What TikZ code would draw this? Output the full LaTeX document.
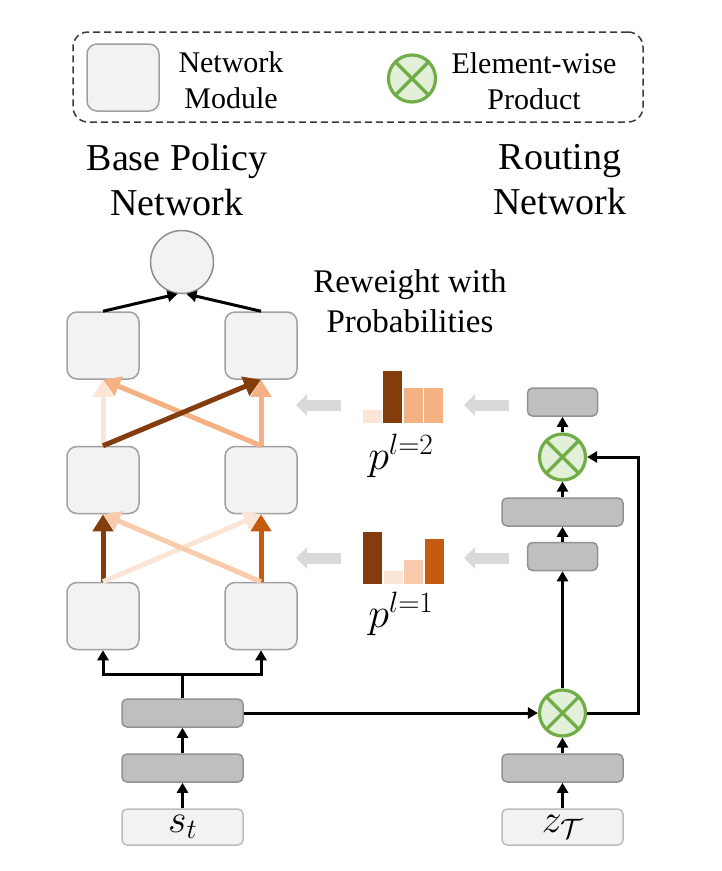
\RequirePackage{fix-cm}
\documentclass[tikz,border=0pt]{standalone}
\usepackage{fontspec}
\setmainfont{Liberation Serif}
\usetikzlibrary{arrows.meta,calc}
\definecolor{modfill}{HTML}{F2F2F2}
\definecolor{modline}{HTML}{A0A0A0}
\definecolor{outline}{HTML}{8C8C8C}
\definecolor{dfill}{HTML}{BFBFBF}
\definecolor{dline}{HTML}{929292}
\definecolor{sline}{HTML}{BDBDBD}
\definecolor{ogreen}{HTML}{70AD47}
\definecolor{ofill}{HTML}{E2F0D9}
\definecolor{cpale}{HTML}{FBE5D6}
\definecolor{clight}{HTML}{F8CBAD}
\definecolor{cmed}{HTML}{F4B183}
\definecolor{corange}{HTML}{C55A11}
\definecolor{cdark}{HTML}{843C0C}
\definecolor{garrow}{HTML}{D9D9D9}
\definecolor{legline}{HTML}{3A3A3A}
\begin{document}
\begin{tikzpicture}[x=1pt,y=-1pt,
  mod/.style={draw=modline, fill=modfill, rounded corners=10pt, line width=1.5pt,
    minimum width=72pt, minimum height=67pt, inner sep=0pt},
  dbox/.style={draw=dline, fill=dfill, rounded corners=5pt, line width=1.5pt,
    inner sep=0pt, minimum height=28pt},
  inbox/.style={draw=sline, fill=modfill, rounded corners=5pt, line width=1.5pt,
    inner sep=0pt, minimum width=121pt, minimum height=36pt, font=\fontsize{40}{40}\selectfont},
  otimesnode/.style={circle, draw=ogreen, fill=ofill, line width=3.2pt, inner sep=0pt,
    minimum size=46pt,
    path picture={\draw[ogreen, line width=3.2pt]
      (path picture bounding box.north west) -- (path picture bounding box.south east)
      (path picture bounding box.north east) -- (path picture bounding box.south west);}},
  blk/.style={line width=3pt, black, -{Triangle[width=11pt,length=10pt]}},
  carr/.style={line width=5pt, -{Triangle[width=20pt,length=17pt]}},
  garr/.style={line width=11pt, garrow, -{Triangle[width=21pt,length=11pt]}},
  txt/.style={align=center, inner sep=0pt},
]
\useasboundingbox (0,0) rectangle (721,871);

% legend
\node[draw=legline, dashed, dash pattern=on 7pt off 4pt, line width=1.5pt, rounded corners=15pt,
  minimum width=570pt, minimum height=90pt, inner sep=0pt] (legend) at (358,77) {};
\node[mod, minimum width=72pt, minimum height=67pt] (legmod) at (123,77.5) {};
\node[txt, font=\fontsize{30}{36}\selectfont] (legmodtxt) at (231,80) {Network\\Module};
\node[otimesnode, minimum size=47pt] (legot) at (412,78.5) {};
\node[txt, font=\fontsize{30}{36}\selectfont] (legottxt) at (534,81) {Element-wise\\Product};

% titles
\node[txt, font=\fontsize{38}{45}\selectfont] (tbase) at (177,180) {Base Policy\\Network};
\node[txt, font=\fontsize{38}{45}\selectfont] (trout) at (560,180) {Routing\\Network};
\node[txt, font=\fontsize{33}{40}\selectfont] (trew) at (410,301) {Reweight with\\Probabilities};

% base policy network modules
\node[draw=outline, fill=modfill, line width=1.5pt, circle, minimum size=63pt, inner sep=0pt] (out) at (182,262) {};
\node[mod] (L3a) at (103,345.5) {};
\node[mod] (L3b) at (261,345.5) {};
\node[mod] (L2a) at (103,480) {};
\node[mod] (L2b) at (261,480) {};
\node[mod] (L1a) at (103,616) {};
\node[mod] (L1b) at (261,616) {};

\draw[blk] (L3a.north) -- (out.262);
\draw[blk] (L3b.north) -- (out.278);

% layer 2 connections
\draw[carr, cpale] (L2a.north) -- (L3a.south);
\draw[carr, cmed] (L2b.north) -- (L3b.south);
\draw[carr, cmed] (L2b.north) -- (L3a.south);
\draw[carr, cdark] (L2a.north) -- (L3b.south);

% layer 1 connections
\draw[carr, cdark] (L1a.north) -- (L2a.south);
\draw[carr, corange] (L1b.north) -- (L2b.south);
\draw[carr, cpale] (L1a.north) -- (L2b.south);
\draw[carr, clight] (L1b.north) -- (L2a.south);

% bars layer 2
\fill[cpale] (363,410) rectangle (382,423);
\fill[cdark] (383,371) rectangle (402,423);
\fill[cmed] (404,388) rectangle (423,423);
\fill[cmed] (424,388) rectangle (443,423);
\node[txt, font=\fontsize{42}{42}\selectfont] (p2) at (401,456) {$p^{l=2}$};
% bars layer 1
\fill[cdark] (363,532) rectangle (382,584);
\fill[cpale] (384,571) rectangle (403,584);
\fill[clight] (404,560) rectangle (423,584);
\fill[corange] (425,539) rectangle (444,584);
\node[txt, font=\fontsize{42}{42}\selectfont] (p1) at (401,614) {$p^{l=1}$};

% gray arrows
\coordinate (g2a) at (509,405); \coordinate (g2b) at (464,405);
\coordinate (g2c) at (341,405); \coordinate (g2d) at (296,405);
\coordinate (g1a) at (509,558); \coordinate (g1b) at (464,558);
\coordinate (g1c) at (341,558); \coordinate (g1d) at (296,558);
\draw[garr] (g2a) -- (g2b);
\draw[garr] (g2c) -- (g2d);
\draw[garr] (g1a) -- (g1b);
\draw[garr] (g1c) -- (g1d);

% bottom left stack
\node[inbox] (s) at (182.5,827) {$s_t$};
\node[dbox, minimum width=121pt] (B1) at (182.5,768) {};
\node[dbox, minimum width=121pt] (B2) at (182.5,713) {};
\draw[blk] (s.north) -- (B1.south);
\draw[blk] (B1.north) -- (B2.south);
\coordinate (split) at (182.5,674);
\draw[line width=3pt] (B2.north) -- (split);
\draw[blk] (split) -| (L1a.south);
\draw[blk] (split) -| (L1b.south);

% routing network
\node[inbox] (z) at (562.5,827) {$z_{\mathcal{T}}$};
\node[dbox, minimum width=121pt] (Rz) at (562.5,768) {};
\node[otimesnode] (ot1) at (562.5,713) {};
\node[dbox, minimum width=70pt] (R1) at (562.5,556.5) {};
\node[dbox, minimum width=121pt] (R2) at (562.5,512) {};
\node[otimesnode] (ot2) at (562.5,457) {};
\node[dbox, minimum width=70pt] (R3) at (562.5,402) {};

\draw[blk] (z.north) -- (Rz.south);
\draw[blk] (Rz.north) -- (ot1.south);
\draw[blk] (B2.east) -- (ot1.west);
\draw[blk] (ot1.north) -- (R1.south);
\draw[blk] (R1.north) -- (R2.south);
\draw[blk] (R2.north) -- (ot2.south);
\draw[blk] (ot2.north) -- (R3.south);
\coordinate (turn) at (638,713);
\draw[blk] (ot1.east) -- (turn) |- (ot2.east);
\end{tikzpicture}
\end{document}
